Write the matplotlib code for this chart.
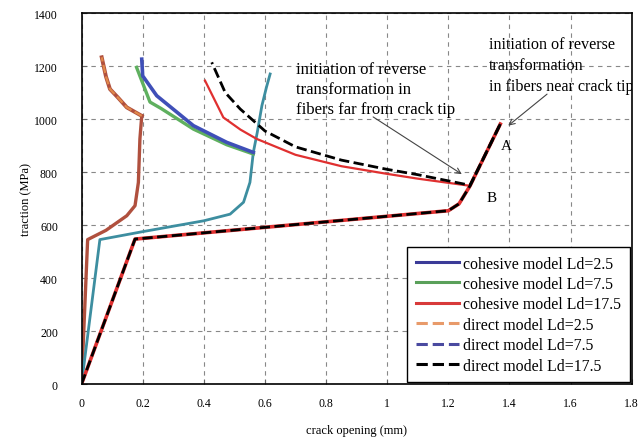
import matplotlib.pyplot as plt
from matplotlib.lines import Line2D

# Ld = 2.5 (leftmost curve)
x_25_load = [0, 0.02, 0.08, 0.148, 0.175, 0.186, 0.191, 0.197]
y_25_load = [0, 545, 580, 635, 673, 761, 925, 1012]
x_25_unl = [0.197, 0.148, 0.12, 0.093, 0.08, 0.066]
y_25_unl = [1012, 1044, 1080, 1113, 1160, 1233]

# Ld = 7.5 (middle curve)
x_75_load = [0, 0.06, 0.2, 0.4, 0.486, 0.53, 0.551, 0.562, 0.575, 0.59, 0.605, 0.617]
y_75_load = [0, 545, 575, 616, 641, 686, 761, 874, 950, 1050, 1120, 1170]
x_75_unl_a = [0.562, 0.475, 0.366, 0.246, 0.2, 0.197]
y_75_unl_a = [874, 912, 975, 1088, 1163, 1226]
x_75_unl_b = [0.562, 0.475, 0.366, 0.26, 0.224, 0.18]
y_75_unl_b = [868, 903, 962, 1040, 1064, 1195]

# Ld = 17.5 (rightmost curve)
x_175_load = [0, 0.175, 0.78, 1.2, 1.235, 1.271, 1.37]
y_175_load = [0, 547, 610, 654, 680, 748, 981]
x_175_dir_unl = [1.37, 1.271, 1.1, 1.0, 0.85, 0.7, 0.6, 0.519, 0.47, 0.426]
y_175_dir_unl = [981, 750, 790, 810, 845, 895, 955, 1038, 1100, 1214]
x_175_coh_unl = [1.37, 1.271, 1.1, 1.0, 0.85, 0.7, 0.573, 0.52, 0.464, 0.404]
y_175_coh_unl = [981, 748, 775, 793, 822, 865, 925, 960, 1006, 1145]

legend_labels = ['cohesive model Ld=2.5', 'cohesive model Ld=7.5', 'cohesive model Ld=17.5',
                 'direct model Ld=2.5', 'direct model Ld=7.5', 'direct model Ld=17.5']
legend_colors = ['#3b3b98', '#5aa05a', '#d83a3a', '#e89a6a', '#4a4aa0', '#000000']
legend_styles = ['-', '-', '-', '--', '--', '--']

plt.rcParams['font.family'] = 'Liberation Serif'

fig = plt.figure(figsize=(6.42, 4.39), dpi=100)
ax = fig.add_axes([0.127, 0.123, 0.857, 0.845])

# leftmost pair
ax.plot(x_25_load, y_25_load, color='#b0503e', lw=2.4)
ax.plot(x_25_unl, y_25_unl, color='#b0503e', lw=2.8)
ax.plot(x_25_unl, y_25_unl, color='#e0884a', lw=1.6, ls='--')

# middle pair
ax.plot(x_75_load, y_75_load, color='#3d8ea0', lw=2.0)
ax.plot(x_75_unl_b, y_75_unl_b, color='#5fb05f', lw=2.4)
ax.plot(x_75_unl_a, y_75_unl_a, color='#3f4fb8', lw=2.6)

# rightmost pair
ax.plot(x_175_load, y_175_load, color='#e03030', lw=2.6)
ax.plot(x_175_coh_unl, y_175_coh_unl, color='#e03030', lw=1.6)
ax.plot(x_175_load, y_175_load, color='black', lw=2.0, ls='--')
ax.plot(x_175_dir_unl, y_175_dir_unl, color='black', lw=2.0, ls='--')

ax.set_xlim(0, 1.8)
ax.set_ylim(0, 1400)
ax.set_xticks([0, 0.2, 0.4, 0.6, 0.8, 1, 1.2, 1.4, 1.6, 1.8])
ax.set_xticklabels(['0', '0.2', '0.4', '0.6', '0.8', '1', '1.2', '1.4', '1.6', '1.8'])
ax.set_yticks(range(0, 1401, 200))
ax.grid(True, color='#888888', ls=(0, (4, 4)), lw=0.8)
ax.set_axisbelow(True)
ax.tick_params(direction='in', labelsize=8.5, color='#666666')
ax.tick_params(axis='x', pad=9)
ax.tick_params(axis='y', pad=17)
for s in ax.spines.values():
    s.set_linewidth(1.2)
ax.set_xlabel('crack opening (mm)', fontsize=9, labelpad=11.5)
ax.set_ylabel('traction (MPa)', fontsize=9, labelpad=1)

# annotations
ax.text(0.702, 1113, 'initiation of reverse\ntransformation in\nfibers far from crack tip',
        fontsize=12, linespacing=1.35, ha='left', va='center')
ax.annotate('', xy=(1.244, 792), xytext=(0.954, 1008),
            arrowprops=dict(arrowstyle='->', color='#444444', lw=0.8, shrinkA=0, shrinkB=0))
ax.text(1.334, 1204, 'initiation of reverse\ntransformation\nin fibers near crack tip',
        fontsize=11.6, linespacing=1.4, ha='left', va='center', clip_on=True)
ax.annotate('', xy=(1.396, 975), xytext=(1.523, 1094),
            arrowprops=dict(arrowstyle='->', color='#444444', lw=0.8, shrinkA=0, shrinkB=0))
ax.text(1.391, 902, 'A', fontsize=11, ha='center', va='center')
ax.text(1.342, 702, 'B', fontsize=11, ha='center', va='center')

handles = [Line2D([], [], color=c, ls=s, lw=2.2) for c, s in zip(legend_colors, legend_styles)]
leg = ax.legend(handles, legend_labels, loc='lower right', fontsize=11.4, borderaxespad=0.1,
                handlelength=2.7, handletextpad=0.3, fancybox=False, framealpha=1,
                edgecolor='black', labelspacing=0.28, borderpad=0.55)
leg.get_frame().set_linewidth(1.0)

fig.savefig('out.png', dpi=100)
